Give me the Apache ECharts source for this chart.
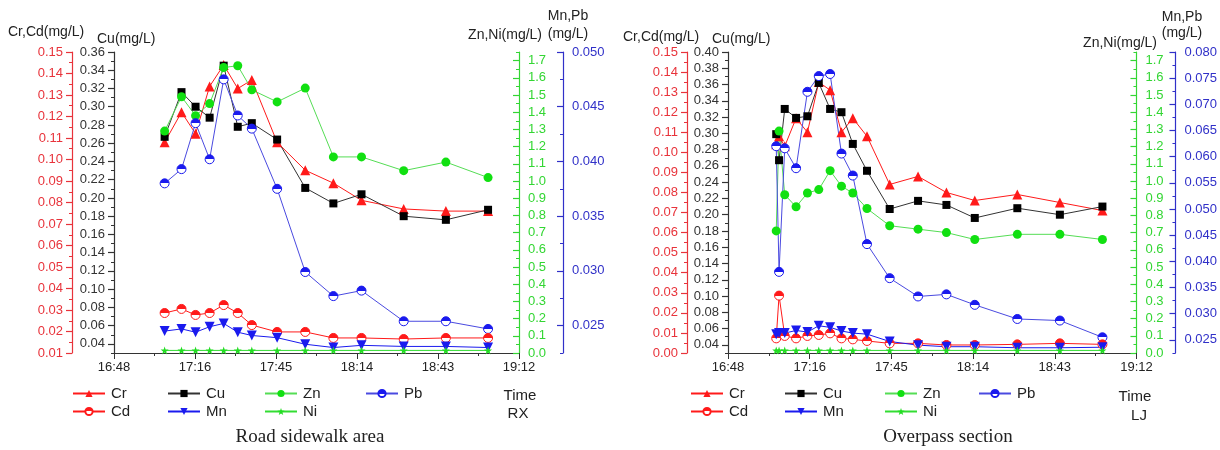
<!DOCTYPE html>
<html>
<head>
<meta charset="utf-8">
<script src="https://cdn.jsdelivr.net/npm/echarts@6/dist/echarts.min.js"></script>
<style>
  html, body { margin: 0; padding: 0; background: #fff; }
  #main { width: 1220px; height: 450px; }
</style>
</head>
<body>
<div id="main"></div>
<script>
// sampling times (hh:mm)
const rxTimes = ['17:06','17:12','17:17','17:22','17:27','17:32','17:37','17:46','17:56','18:06','18:16','18:31','18:46','19:01'];
const ljTimes = ['17:05','17:06','17:08','17:12','17:16','17:20','17:24','17:28','17:32','17:37','17:45','17:55','18:05','18:15','18:30','18:45','19:00'];

// Road sidewalk area (RX)
const rxCr = [0.108, 0.122, 0.112, 0.134, 0.144, 0.133, 0.137, 0.108, 0.095, 0.089, 0.081, 0.077, 0.076, 0.076];
const rxCd = [0.0286, 0.0305, 0.0277, 0.0286, 0.0323, 0.0286, 0.0230, 0.0198, 0.0198, 0.0170, 0.0170, 0.0165, 0.0170, 0.0170];
const rxCu = [0.267, 0.316, 0.300, 0.288, 0.345, 0.278, 0.282, 0.264, 0.211, 0.194, 0.204, 0.180, 0.176, 0.187];
const rxZn = [1.29, 1.49, 1.38, 1.45, 1.66, 1.67, 1.53, 1.46, 1.54, 1.14, 1.14, 1.06, 1.11, 1.02];
const rxNi = [0.015, 0.015, 0.015, 0.015, 0.015, 0.015, 0.015, 0.015, 0.015, 0.015, 0.015, 0.015, 0.015, 0.015];
const rxPb = [0.0380, 0.0393, 0.0435, 0.0402, 0.0475, 0.0442, 0.0430, 0.0375, 0.0299, 0.0277, 0.0282, 0.0254, 0.0254, 0.0247];
const rxMn = [0.0245, 0.0247, 0.0244, 0.0249, 0.0252, 0.0244, 0.0241, 0.0239, 0.0233, 0.0230, 0.0232, 0.0231, 0.0231, 0.0230];

// Overpass section (LJ)
const ljCr = [0.104, 0.108, 0.103, 0.117, 0.110, 0.135, 0.131, 0.110, 0.117, 0.108, 0.084, 0.088, 0.080, 0.076, 0.079, 0.075, 0.071];
const ljCd = [0.0073, 0.0286, 0.0085, 0.0073, 0.0085, 0.0090, 0.0098, 0.0073, 0.0068, 0.0060, 0.0048, 0.0048, 0.0040, 0.0040, 0.0043, 0.0048, 0.0043];
const ljCu = [0.299, 0.267, 0.330, 0.319, 0.321, 0.362, 0.330, 0.326, 0.287, 0.254, 0.207, 0.217, 0.212, 0.196, 0.208, 0.200, 0.210];
const ljZn = [0.71, 1.29, 0.92, 0.85, 0.93, 0.95, 1.06, 0.97, 0.93, 0.84, 0.74, 0.72, 0.70, 0.66, 0.69, 0.69, 0.66];
const ljNi = [0.015, 0.015, 0.015, 0.015, 0.015, 0.015, 0.015, 0.015, 0.015, 0.015, 0.015, 0.015, 0.015, 0.015, 0.015, 0.015, 0.015];
const ljPb = [0.0620, 0.0380, 0.0616, 0.0578, 0.0724, 0.0754, 0.0758, 0.0606, 0.0564, 0.0433, 0.0368, 0.0333, 0.0337, 0.0317, 0.0290, 0.0287, 0.0255];
const ljMn = [0.0261, 0.0263, 0.0263, 0.0268, 0.0265, 0.0277, 0.0274, 0.0267, 0.0263, 0.0261, 0.0247, 0.0240, 0.0237, 0.0237, 0.0235, 0.0235, 0.0236];

// tick labels
const redTicksRX = [0.01,0.02,0.03,0.04,0.05,0.06,0.07,0.08,0.09,0.10,0.11,0.12,0.13,0.14,0.15];
const redTicksLJ = [0.00,0.01,0.02,0.03,0.04,0.05,0.06,0.07,0.08,0.09,0.10,0.11,0.12,0.13,0.14,0.15];
const cuTicksRX = [0.04,0.06,0.08,0.10,0.12,0.14,0.16,0.18,0.20,0.22,0.24,0.26,0.28,0.30,0.32,0.34,0.36];
const cuTicksLJ = [0.04,0.06,0.08,0.10,0.12,0.14,0.16,0.18,0.20,0.22,0.24,0.26,0.28,0.30,0.32,0.34,0.36,0.38,0.40];
const znTicks = [0.0,0.1,0.2,0.3,0.4,0.5,0.6,0.7,0.8,0.9,1.0,1.1,1.2,1.3,1.4,1.5,1.6,1.7];
const pbTicksRX = [0.025,0.030,0.035,0.040,0.045,0.050];
const pbTicksLJ = [0.025,0.030,0.035,0.040,0.045,0.050,0.055,0.060,0.065,0.070,0.075,0.080];

const FONT = '"Liberation Sans", Arial, sans-serif';
const RED = '#ff1a1a', GREEN = '#22dd22', BLUE = '#1a1aee';
const RED_AX = '#e8333b', GREEN_AX = '#33d633', BLUE_AX = '#3030c8';

const myChart = echarts.init(document.getElementById('main'));

const toDay = s => { const p = s.split(':').map(Number); return (p[0] * 60 + p[1]) / 1440; };
const pts = (times, vals) => times.map((t, i) => [toDay(t), vals[i]]);
const fmtTime = v => {
  const m = Math.floor(v * 1440 + 1e-6);
  return Math.floor(m / 60) + ':' + String(m % 60).padStart(2, '0');
};

// minor ticks sit halfway between the labelled ones
const minorsOf = (ticks, min, max) => {
  const step = ticks[1] - ticks[0];
  const out = [];
  const first = ticks[0] - step / 2;
  if (first >= min - 1e-9) out.push(first);
  for (let i = 0; i < ticks.length - 1; i++) out.push((ticks[i] + ticks[i + 1]) / 2);
  const last = ticks[ticks.length - 1] + step / 2;
  if (last <= max + 1e-9) out.push(last);
  return out;
};

const makeAxis = (g, side, offset, min, max, ticks, digits, color, inside) => [
  {
    type: 'value', gridIndex: g, position: side, offset, min, max,
    axisLine: { show: true, onZero: false, lineStyle: { color, width: 1.2 } },
    axisTick: { show: true, inside, length: 6, customValues: ticks, lineStyle: { color, width: 1.2 } },
    axisLabel: { customValues: ticks, color, fontSize: 13, fontFamily: FONT, margin: 9,
      formatter: v => v.toFixed(digits) },
    splitLine: { show: false }
  },
  {
    type: 'value', gridIndex: g, position: side, offset, min, max,
    axisLine: { show: false },
    axisTick: { show: true, inside, length: 3, customValues: minorsOf(ticks, min, max), lineStyle: { color, width: 1 } },
    axisLabel: { show: false },
    splitLine: { show: false }
  }
];

const yAxis = [].concat(
  makeAxis(0, 'left', 42, 0.01, 0.15, redTicksRX, 2, RED_AX, false),
  makeAxis(0, 'left', 0, 0.03, 0.36, cuTicksRX, 2, '#333', false),
  makeAxis(0, 'right', 0, 0, 1.75, znTicks, 1, GREEN_AX, true),
  makeAxis(0, 'right', 44, 0.0225, 0.05, pbTicksRX, 3, BLUE_AX, true),
  makeAxis(1, 'left', 41, 0, 0.15, redTicksLJ, 2, RED_AX, false),
  makeAxis(1, 'left', 0, 0.03, 0.40, cuTicksLJ, 2, '#333', false),
  makeAxis(1, 'right', 0, 0, 1.75, znTicks, 1, GREEN_AX, true),
  makeAxis(1, 'right', 39, 0.0225, 0.08, pbTicksLJ, 3, BLUE_AX, true)
);

const xAx = g => ({
  type: 'value', gridIndex: g, min: 0.70, max: 0.80, interval: 0.02,
  axisLine: { onZero: false, lineStyle: { color: '#333', width: 1.2 } },
  axisTick: { length: 6, lineStyle: { color: '#333' } },
  minorTick: { show: true, splitNumber: 2, length: 3, lineStyle: { color: '#333' } },
  axisLabel: { color: '#222', fontSize: 13, fontFamily: FONT, margin: 8, formatter: fmtTime },
  splitLine: { show: false }
});

const halfFill = c => ({
  type: 'linear', x: 0, y: 0, x2: 0, y2: 1,
  colorStops: [{ offset: 0, color: c }, { offset: 0.5, color: c }, { offset: 0.5, color: '#fff' }, { offset: 1, color: '#fff' }]
});
const STAR = 'path://M0,-10L2.35,-3.24L9.51,-3.09L3.8,1.24L5.88,8.09L0,4L-5.88,8.09L-3.8,1.24L-9.51,-3.09L-2.35,-3.24Z';

const seriesFor = (g, base, times, d) => [
  { name: 'Cr', y: base, v: d.cr, symbol: 'triangle', size: 10, line: RED, item: { color: RED } },
  { name: 'Cu', y: base + 2, v: d.cu, symbol: 'rect', size: 8, line: '#333', item: { color: '#000' } },
  { name: 'Zn', y: base + 4, v: d.zn, symbol: 'circle', size: 9, line: '#55dd55', item: { color: '#11e011' } },
  { name: 'Pb', y: base + 6, v: d.pb, symbol: 'circle', size: 9, line: '#4a4ae0', item: { color: halfFill(BLUE), borderColor: BLUE, borderWidth: 1 } },
  { name: 'Cd', y: base, v: d.cd, symbol: 'circle', size: 9, line: RED, item: { color: halfFill(RED), borderColor: RED, borderWidth: 1 } },
  { name: 'Mn', y: base + 6, v: d.mn, symbol: 'triangle', rotate: 180, size: 10, line: BLUE, item: { color: BLUE } },
  { name: 'Ni', y: base + 4, v: d.ni, symbol: STAR, size: 8, line: '#33dd33', item: { color: '#22dd22' } }
].map(s => ({
  type: 'line', name: s.name, xAxisIndex: g, yAxisIndex: s.y,
  data: pts(times, s.v),
  symbol: s.symbol, symbolSize: s.size, symbolRotate: s.rotate || 0,
  showAllSymbol: true,
  lineStyle: { color: s.line, width: 1 },
  itemStyle: s.item,
  emphasis: { disabled: true }
}));

const series = [].concat(
  seriesFor(0, 0, rxTimes, { cr: rxCr, cu: rxCu, zn: rxZn, pb: rxPb, cd: rxCd, mn: rxMn, ni: rxNi }),
  seriesFor(1, 8, ljTimes, { cr: ljCr, cu: ljCu, zn: ljZn, pb: ljPb, cd: ljCd, mn: ljMn, ni: ljNi })
);

// legend: one small legend per entry, laid out in two rows under each panel
const legendCols = [[72, 167, 264, 365], [690, 784, 884, 978]];
const legendRows = [[['Cr', 0], ['Cu', 1], ['Zn', 2], ['Pb', 3]], [['Cd', 0], ['Mn', 1], ['Ni', 2]]];
const rowY = [386, 404];
const legend = [];
legendCols.forEach(cols => {
  legendRows.forEach((row, r) => {
    row.forEach(([name, c]) => {
      legend.push({
        left: cols[c], top: rowY[r], padding: 0, itemGap: 0,
        itemWidth: 32, itemHeight: 9, selectedMode: false,
        data: [name],
        textStyle: { fontSize: 15, fontFamily: FONT, color: '#222', padding: [0, 0, 0, 1] }
      });
    });
  });
});

const txt = (text, x, y, opt) => Object.assign({
  type: 'text', x, y,
  style: { text, fill: '#222', font: '14px "Liberation Sans", Arial, sans-serif', align: 'left', verticalAlign: 'middle' }
}, opt ? { style: Object.assign({ text, fill: '#222', font: '14px "Liberation Sans", Arial, sans-serif', align: 'left', verticalAlign: 'middle' }, opt) } : {});

const graphic = [
  txt('Cr,Cd(mg/L)', 8, 32),
  txt('Cu(mg/L)', 97, 39),
  txt('Zn,Ni(mg/L)', 542, 35, { align: 'right' }),
  txt('Mn,Pb', 568, 16, { align: 'center' }),
  txt('(mg/L)', 568, 34, { align: 'center' }),
  txt('Time', 520, 396, { align: 'center', font: '15px "Liberation Sans", Arial, sans-serif' }),
  txt('RX', 518, 414, { align: 'center', font: '15px "Liberation Sans", Arial, sans-serif' }),
  txt('Road sidewalk area', 310, 437, { align: 'center', font: '19px "Liberation Serif", "Times New Roman", serif' }),

  txt('Cr,Cd(mg/L)', 623, 37),
  txt('Cu(mg/L)', 712, 39),
  txt('Zn,Ni(mg/L)', 1157, 43, { align: 'right' }),
  txt('Mn,Pb', 1182, 17, { align: 'center' }),
  txt('(mg/L)', 1182, 33, { align: 'center' }),
  txt('Time', 1135, 397, { align: 'center', font: '15px "Liberation Sans", Arial, sans-serif' }),
  txt('LJ', 1139, 416, { align: 'center', font: '15px "Liberation Sans", Arial, sans-serif' }),
  txt('Overpass section', 948, 437, { align: 'center', font: '19px "Liberation Serif", "Times New Roman", serif' })
];

const option = {
  animation: false,
  backgroundColor: '#fff',
  grid: [
    { left: 114, top: 52, width: 405, height: 301 },
    { left: 728, top: 52, width: 411, height: 301 }
  ],
  xAxis: [xAx(0), xAx(1)],
  yAxis,
  legend,
  graphic,
  series
};

myChart.setOption(option);
</script>
</body>
</html>
